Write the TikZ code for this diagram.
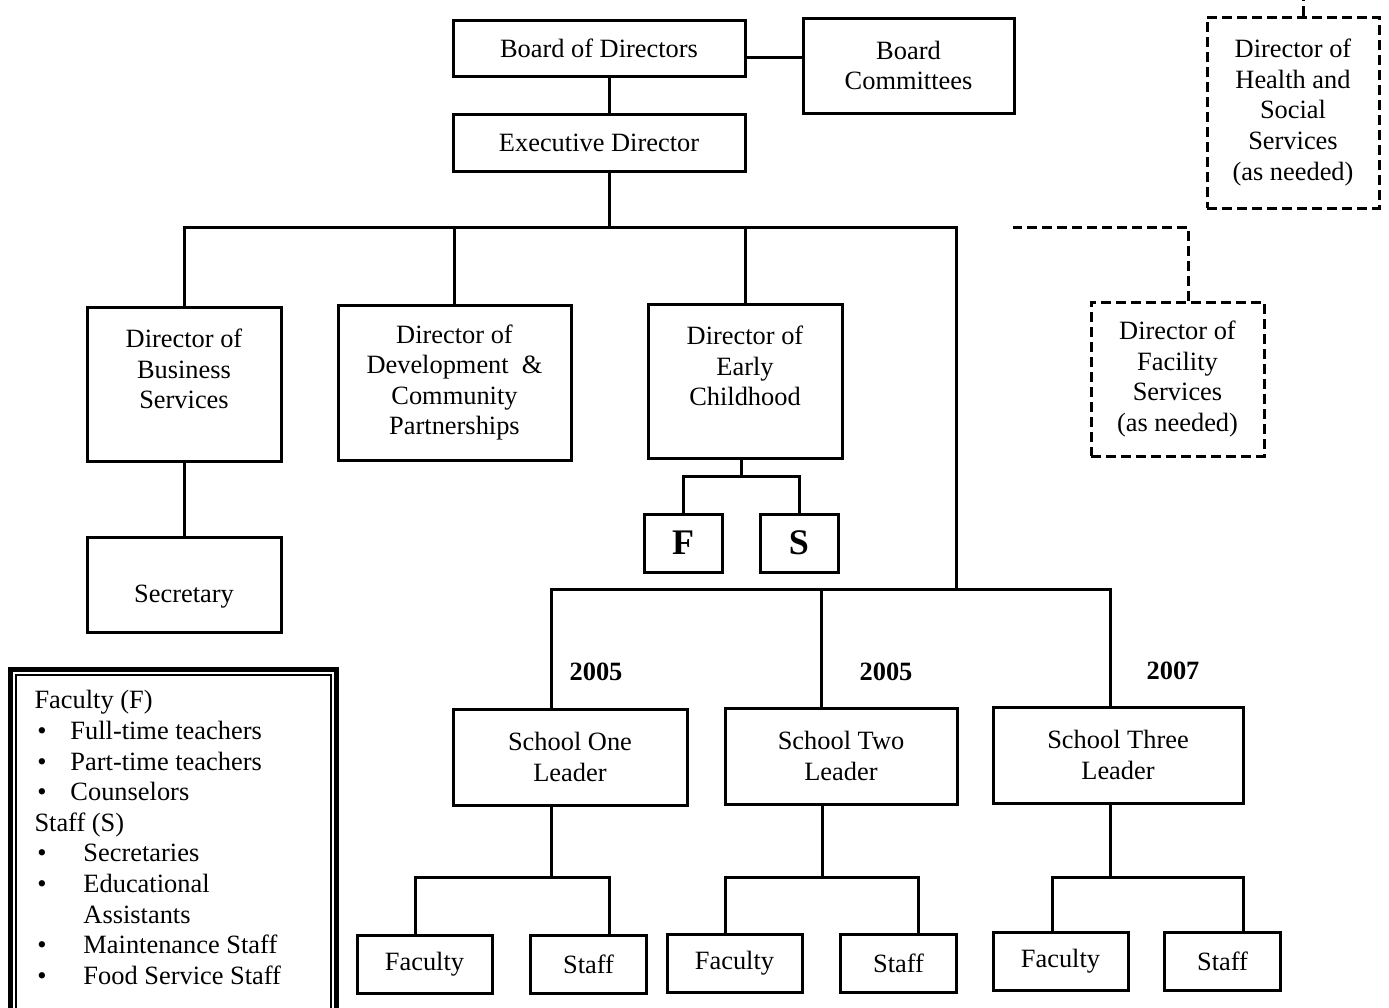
\documentclass[tikz,border=0pt]{standalone}
\usepackage{fontspec}
\setmainfont{Liberation Serif}
\newcommand{\bul}[1]{\makebox[#1][l]{\textbullet}}
\begin{document}
\begin{tikzpicture}[
      x=0.5pt, y=-0.5pt,
      line width=1.5pt,
      every node/.style={font=\fontsize{13.2}{15.3}\selectfont},
      box/.style={draw, align=center, inner sep=0pt},
      dline/.style={dash pattern=on 5pt off 2.5pt},
      dbox/.style={box, dline},
      year/.style={font=\fontsize{13.2}{15.3}\selectfont\bfseries},
      letter/.style={box, font=\fontsize{18}{20}\selectfont\bfseries, minimum width=39pt, minimum height=29pt}
    ]
      \useasboundingbox (0,0) rectangle (1389,1008);
      % top of the chart
      \node[box, minimum width=146pt, minimum height=28pt] (bod) at (599,48) {Board of Directors};
      \node[box, minimum width=105.5pt, minimum height=47.5pt] (bc) at (908.5,65.5) {Board\\Committees};
      \node[box, minimum width=146pt, minimum height=28.5pt] (ed) at (599,142.5) {Executive Director};
      % directors
      \node[box, minimum width=97pt, minimum height=77pt] (bus) at (184,384) {Director of\\Business\\Services\\\mbox{}};
      \node[box, minimum width=97pt, minimum height=47.5pt, text height=21pt, text depth=2.9pt] (sec) at (184,584.5) {Secretary};
      \node[box, minimum width=116.5pt, minimum height=77.5pt] (dev) at (454.5,382.5) {Director of\\Development \ \&\\Community\\Partnerships};
      \node[box, minimum width=97pt, minimum height=77pt] (ec) at (745,381) {Director of\\Early\\Childhood\\\mbox{}};
      \node[letter] (f) at (683,543) {F};
      \node[letter] (s) at (799,543) {S};
      \node[dbox, minimum width=86pt, minimum height=95.5pt] (hsd) at (1293,112.5) {Director of\\Health and\\Social\\Services\\(as needed)};
      \node[dbox, minimum width=86.5pt, minimum height=77pt] (fsd) at (1177.5,379) {Director of\\Facility\\Services\\(as needed)};
      % schools
      \node[box, minimum width=117pt, minimum height=48pt] (sch1) at (570,757) {School One\\Leader};
      \node[box, minimum width=116pt, minimum height=48pt] (sch2) at (841,756) {School Two\\Leader};
      \node[box, minimum width=125pt, minimum height=48pt] (sch3) at (1118,755) {School Three\\Leader};
      \node[year] (yr1) at (596,672) {2005};
      \node[year] (yr2) at (886,672) {2005};
      \node[year] (yr3) at (1173,671) {2007};
      \foreach \n/\fx/\sx/\yy in {1/424.5/588.5/964, 2/734.5/898.5/963, 3/1060.5/1222.5/961}{
        \node[box, minimum width=67.5pt, minimum height=29pt] (fac\n) at (\fx,\yy) {Faculty};
        \node[box, minimum width=58pt, minimum height=29pt] (sta\n) at (\sx,\yy) {Staff};
      }
      % connectors
      \coordinate (link) at (774,57);
      \coordinate (top) at (609,227);
      \coordinate (mid) at (956,589);
      \coordinate (es) at (741,476);
      \coordinate (s1) at (551,589);
      \coordinate (s2) at (821,589);
      \coordinate (s3) at (1110,589);
      \draw (bod.east |- link) -- (bc.west |- link);
      \draw (bod.south -| top) -- (ed.north -| top);
      \draw (ed.south -| top) -- (top);
      \draw (bus.north) |- (mid |- top) -- (mid);
      \draw (dev.north) -- (dev.north |- top);
      \draw (ec.north) -- (ec.north |- top);
      \draw (bus.south) -- (sec.north);
      \draw (ec.south -| es) -- (es);
      \draw (f.north) |- (es) -| (s.north);
      \draw (sch1.north -| s1) |- (s3) -- (sch3.north -| s3);
      \draw (s2) -- (sch2.north -| s2);
      \foreach \n/\x/\l/\r in {1/551/415/609, 2/822/725/918, 3/1110/1052/1243}{
        \coordinate (k\n) at (\x,877);
        \coordinate (kl\n) at (\l,877);
        \coordinate (kr\n) at (\r,877);
        \draw (sch\n.south -| k\n) -- (k\n);
        \draw (fac\n.north -| kl\n) |- (kr\n) -- (sta\n.north -| kr\n);
      }
      % dashed links
      \coordinate (hup) at (1303,0);
      \coordinate (fcorner) at (1188,227);
      \coordinate (fend) at (1013,227);
      \draw[dline] (hsd.north -| hup) -- (hup);
      \draw[dline] (fsd.north -| fcorner) -- (fcorner) -- (fend);
      % key
      \draw[line width=2.5pt] (10.5,1012) |- (336,669) -- (336,1012);
      \draw[line width=0.8pt] (16,1012) |- (331,675) -- (331,1012);
      \node[anchor=north west, align=left, inner sep=0pt] (key) at (33,689) {Faculty (F)\\
        \hspace*{1.5pt}\bul{16.5pt}Full-time teachers\\
        \hspace*{1.5pt}\bul{16.5pt}Part-time teachers\\
        \hspace*{1.5pt}\bul{16.5pt}Counselors\\
        Staff (S)\\
        \hspace*{1.5pt}\bul{23pt}Secretaries\\
        \hspace*{1.5pt}\bul{23pt}Educational\\
        \hspace*{24.5pt}Assistants\\
        \hspace*{1.5pt}\bul{23pt}Maintenance Staff\\
        \hspace*{1.5pt}\bul{23pt}Food Service Staff};
    \end{tikzpicture}
\end{document}
